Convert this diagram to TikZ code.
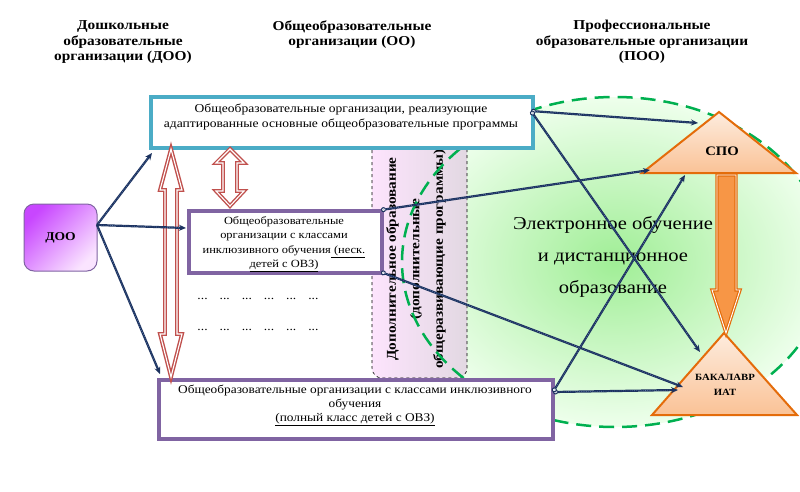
\documentclass[tikz,border=0pt]{standalone}
\usepackage{fontspec}
\setmainfont{Liberation Serif}[FakeStretch=1.13]
\usetikzlibrary{arrows.meta}
\definecolor{navy}{RGB}{28,50,95}
\definecolor{navyl}{RGB}{95,125,175}
\definecolor{cyanb}{RGB}{75,172,198}
\definecolor{purp}{RGB}{128,100,162}
\definecolor{redb}{RGB}{192,80,77}
\definecolor{orb}{RGB}{228,108,10}
\definecolor{orf}{RGB}{247,150,70}
\definecolor{grn}{RGB}{0,176,80}
\definecolor{greenc}{RGB}{160,238,150}
\definecolor{greeno}{RGB}{238,255,236}
\definecolor{pinkl}{RGB}{253,228,253}
\definecolor{pinkg}{RGB}{226,216,226}
\definecolor{dooA}{RGB}{200,70,255}
\definecolor{dooB}{RGB}{250,228,255}
\definecolor{triT}{RGB}{253,236,222}
\definecolor{triB}{RGB}{250,194,150}
\tikzset{
  hdr/.style={font=\bfseries\fontsize{13.6}{15.5}\selectfont, align=center, inner sep=0pt},
  boxtxt/.style={align=center, inner sep=0pt},
  cbox/.style={draw=cyanb, line width=3pt, fill=white, minimum width=383pt, minimum height=52pt, inner sep=0pt},
  pbox/.style={draw=purp, line width=3pt, fill=white, inner sep=0pt},
  conn/.style={draw=navy, line width=2.2pt, -{Stealth[length=7pt,width=6pt]},
     postaction={draw=navyl, line width=0.6pt, dash pattern=on 0.7pt off 1.5pt, -, shorten >=7pt, shorten <=2pt}},
  tconn/.style={conn, {Circle[length=5pt,width=5pt,fill=white,line width=1pt]}-{Stealth[length=7pt,width=6pt]}},
  redarr/.style={draw=redb, line width=1.4pt, double=white, double distance=1.1pt, fill=white, line join=miter},
  tri/.style={draw=orb, line width=2pt, top color=triT, bottom color=triB, line join=miter},
}
\begin{document}
\begin{tikzpicture}[x=1pt,y=-1pt]
\useasboundingbox (0,0) rectangle (800,491);
\clip (0,0) rectangle (800,491);
\fill[white] (0,0) rectangle (800,491);

% headers
\node[hdr] (h1) at (123,42) {Дошкольные\\образовательные\\организации (ДОО)};
\node[hdr] (h2) at (352,34.5) {Общеобразовательные\\организации (ОО)};
\node[hdr] (h3) at (642,42) {Профессиональные\\образовательные организации\\(ПОО)};

% green ellipse fill
\path[shading=radial, inner color=greenc, outer color=greeno] (615,262) ellipse [x radius=213, y radius=165];

% pink rounded box
\path[left color=pinkl, right color=pinkg, draw=black, dashed, line width=0.6pt, rounded corners=10pt]
  (372,128) rectangle (467,378);
\node[rotate=90, align=center, inner sep=0pt, font=\bfseries\fontsize{13.5}{23.5}\selectfont] (dop) at (416,259)
  {Дополнительное образование\\(дополнительные\\общеразвивающие программы)};

% ellipse border
\draw[grn, line width=2.5pt, dash pattern=on 15pt off 8pt] (615,262) ellipse [x radius=213, y radius=165];

% electronic text
\node[align=center, inner sep=0pt, font=\fontsize{18.2}{32}\selectfont] (el) at (613,257)
  {Электронное обучение\\и дистанционное\\образование};

% triangles
\path[tri] (719,112) -- (796,173) -- (642,173) -- cycle;
\node[font=\bfseries\fontsize{13}{15}\selectfont, inner sep=0pt] (spo) at (722,151) {СПО};
\path[tri] (724,333) -- (797,415) -- (652,415) -- cycle;
\node[font=\bfseries\fontsize{9.5}{15}\selectfont, align=center, inner sep=0pt] (bak) at (725,385) {БАКАЛАВР\\ИАТ};

% orange arrow
\path[draw=orb, line width=1.2pt, double=white, double distance=0.9pt, fill=orf, line join=miter]
  (717,175) -- (736,175) -- (736,290) -- (740,290) -- (726,333) -- (712,290) -- (717,290) -- cycle;

% DOO box
\node[draw=purp, line width=1pt, rounded corners=10pt, minimum width=73pt, minimum height=67pt,
  top color=dooA, bottom color=dooB, shading angle=45, font=\bfseries\fontsize{12}{14}\selectfont] (doo) at (60.5,237.5) {ДОО};

% top box
\node[cbox, anchor=north west] (top) at (149,95) {};
\draw[cyanb, line width=0.8pt] ([shift={(3.8pt,-3.8pt)}]top.north west) rectangle ([shift={(-3.8pt,3.8pt)}]top.south east);
\node[boxtxt, font=\fontsize{12}{15.5}\selectfont] (toptxt) at (341,117)
  {Общеобразовательные организации, реализующие\\адаптированные основные общеобразовательные программы};

% middle box
\node[pbox, anchor=north west, minimum width=194pt, minimum height=63pt] (mid) at (187,209) {};
\draw[purp, line width=0.8pt] ([shift={(3.8pt,-3.8pt)}]mid.north west) rectangle ([shift={(-3.8pt,3.8pt)}]mid.south east);
\node[boxtxt, font=\fontsize{11}{14.5}\selectfont] (midtxt) at (284,244)
  {Общеобразовательные\\организации с классами\\инклюзивного обучения\underline{ (неск.}\\\underline{детей с ОВЗ)}};

% bottom box
\node[pbox, anchor=north west, minimum width=395pt, minimum height=60pt] (bot) at (157,378) {};
\draw[purp, line width=0.8pt] ([shift={(3.8pt,-3.8pt)}]bot.north west) rectangle ([shift={(-3.8pt,3.8pt)}]bot.south east);
\node[boxtxt, font=\fontsize{11.8}{14}\selectfont] (bottxt) at (355,405.5)
  {Общеобразовательные организации с классами инклюзивного\\обучения\\\underline{(полный класс детей с ОВЗ)}};

% dots
\node[inner sep=0pt, font=\fontsize{12}{14}\selectfont] (dots1) at (258,299)
  {...\hspace{12pt}...\hspace{12pt}...\hspace{12pt}...\hspace{12pt}...\hspace{12pt}...};
\node[inner sep=0pt, font=\fontsize{12}{14}\selectfont] (dots2) at (258,330)
  {...\hspace{12pt}...\hspace{12pt}...\hspace{12pt}...\hspace{12pt}...\hspace{12pt}...};

% red arrows
\path[redarr] (171,149) -- (182,190) -- (177,190) -- (177,334) -- (182,334) -- (171,377) -- (160,334) -- (165,334) -- (165,190) -- (160,190) -- cycle;
\path[redarr] (230,149) -- (244,163) -- (237,163) -- (237,191) -- (244,191) -- (230,206) -- (216,191) -- (223,191) -- (223,163) -- (216,163) -- cycle;

% connector coordinates
\coordinate (dooR) at (97,225);
\coordinate (ta) at (152,153);
\coordinate (mb) at (186,228);
\coordinate (bc) at (160,374);
\coordinate (tR) at (531,111);
\coordinate (mR1) at (381,210);
\coordinate (mR2) at (381,272);
\coordinate (bR) at (553,392);
\coordinate (spoL) at (698,123);
\coordinate (spoB1) at (650,170);
\coordinate (spoB2) at (685,175);
\coordinate (bakT) at (700,352);
\coordinate (bakL1) at (683,387);
\coordinate (bakL2) at (678,390);

\draw[conn] (dooR) -- (ta);
\draw[conn] (dooR) -- (mb);
\draw[conn] (dooR) -- (bc);
\draw[tconn] (tR) -- (spoL);
\draw[tconn] (tR) -- (bakT);
\draw[tconn] (mR1) -- (spoB1);
\draw[tconn] (mR2) -- (bakL1);
\draw[tconn] (bR) -- (bakL2);
\draw[tconn] (bR) -- (spoB2);
\end{tikzpicture}
\end{document}
